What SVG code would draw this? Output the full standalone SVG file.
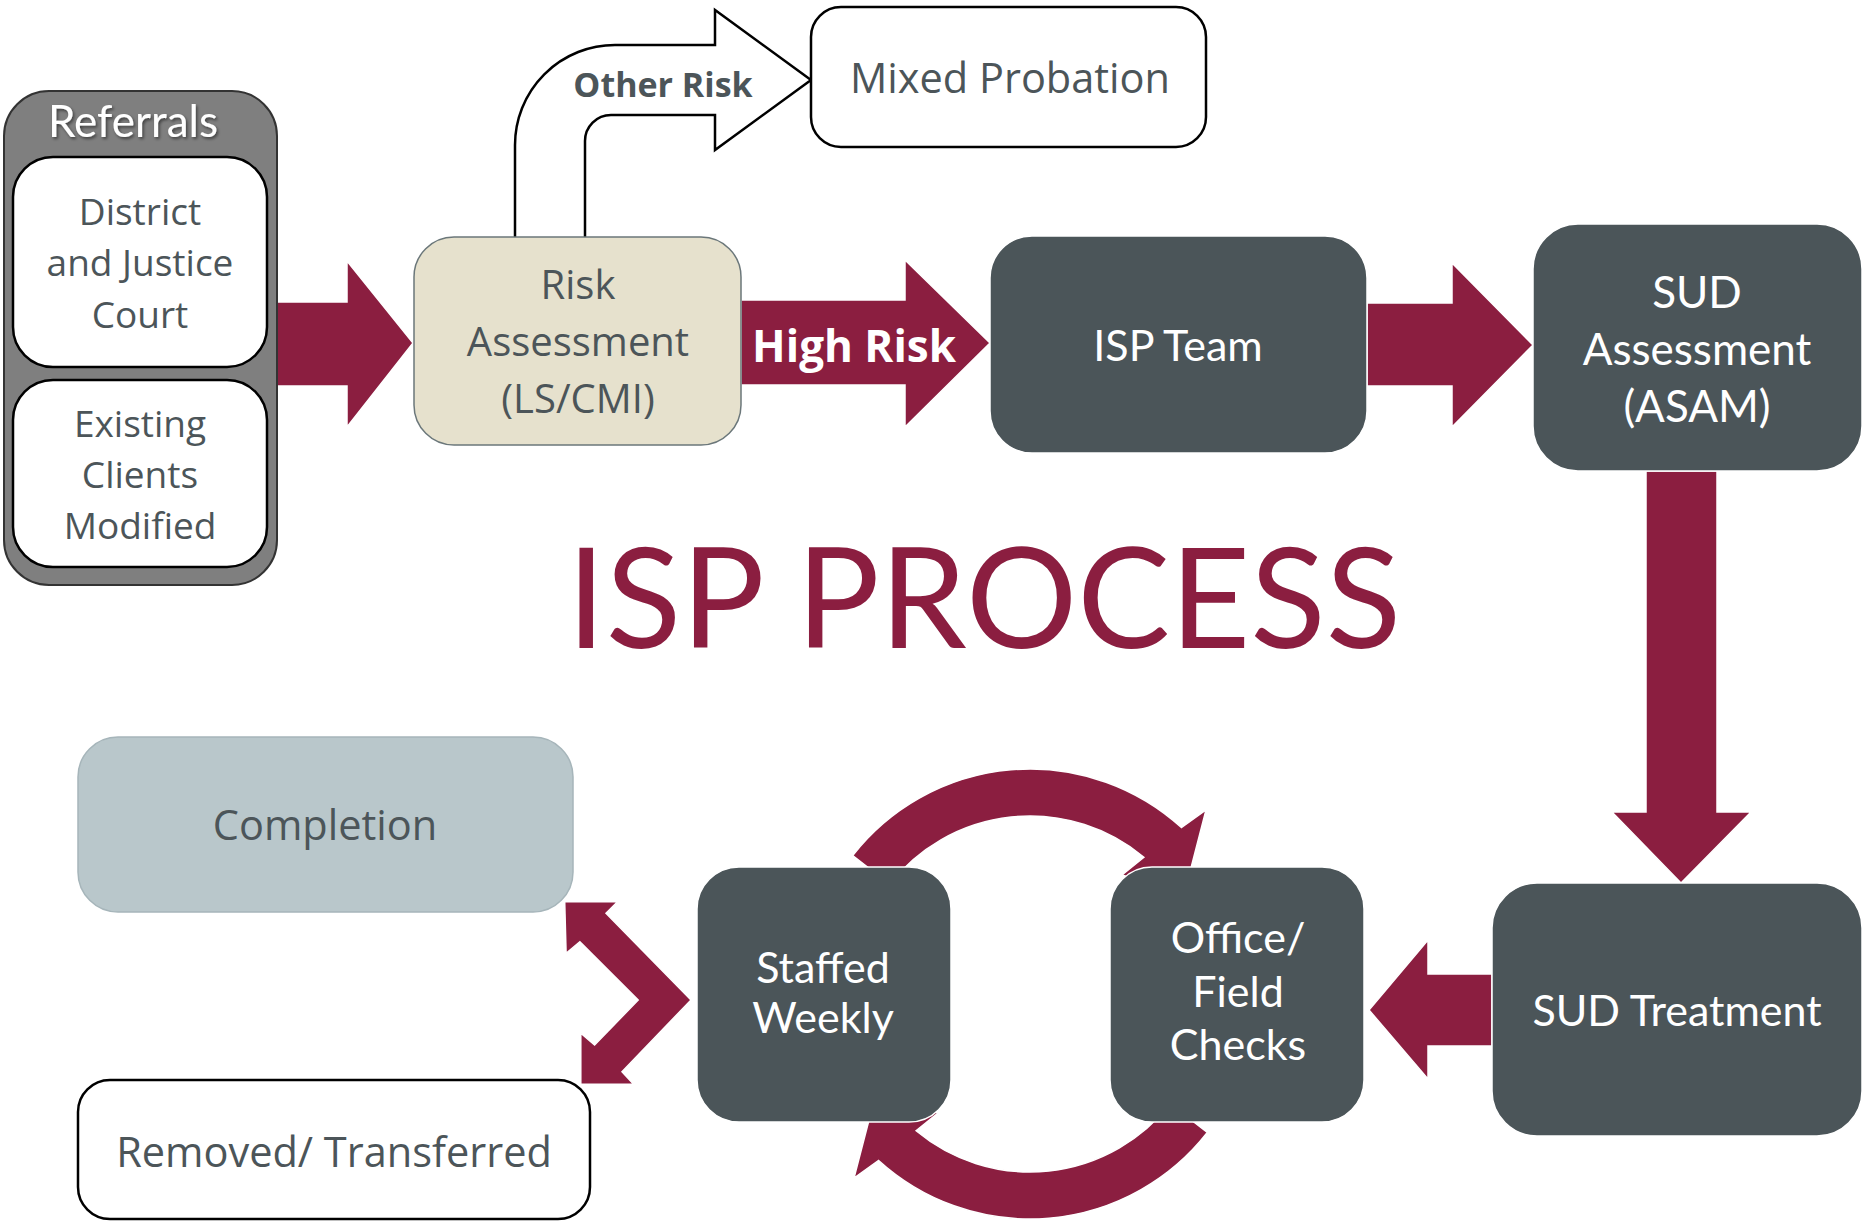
<svg xmlns="http://www.w3.org/2000/svg" width="1864" height="1221" viewBox="0 0 1864 1221">
  <defs>
    <style>
      .arrow { fill: #8b1e40; stroke: #ffffff; stroke-width: 1.5; }
      .dark { fill: #4b5559; stroke: #ffffff; stroke-width: 1.5; }
      .white-box { fill: #ffffff; stroke: #000000; stroke-width: 2.5; }
      .t-dark { font-family: "Open Sans", "Liberation Sans", sans-serif; fill: #4c5559; text-anchor: middle; }
      .t-light { font-family: Lato, "Open Sans", sans-serif; fill: #ffffff; text-anchor: middle; }
    </style>
    <filter id="shadow" x="-10%" y="-20%" width="130%" height="150%">
      <feDropShadow dx="1.5" dy="2" stdDeviation="1.5" flood-color="#000000" flood-opacity="0.5"/>
    </filter>
  </defs>
  <rect x="0" y="0" width="1864" height="1221" fill="#ffffff"/>

  <g id="node-completion">
    <rect x="78" y="737" width="495" height="175" rx="40" fill="#b9c7cb" stroke="#a6b5ba" stroke-width="1.5"/>
    <text class="t-dark" x="325" y="840" font-size="41.5">Completion</text>
  </g>
  <g id="node-removed">
    <rect x="78" y="1080" width="512" height="139" rx="32" class="white-box"/>
    <text class="t-dark" x="334" y="1167" font-size="41.5">Removed/ Transferred</text>
  </g>

  <g id="connectors">
    <path id="arrow-referrals-risk" class="arrow" d="M 277 302 L 347 302 L 347 261 L 413 343 L 347 427 L 347 386 L 277 386 Z"/>
    <path id="arrow-other-risk" d="M 515 240 L 515 145 A 100 100 0 0 1 615 45 L 715 45 L 715 10 L 811 80 L 715 150 L 715 115 L 611 115 A 26 26 0 0 0 585 141 L 585 240 Z" fill="#ffffff" stroke="#000000" stroke-width="2.5"/>
    <text x="663" y="97" font-family="'Open Sans', 'Liberation Sans', sans-serif" font-weight="bold" font-size="34" fill="#4c5559" text-anchor="middle">Other Risk</text>
    <path id="arrow-high-risk" class="arrow" d="M 741 300 L 905 300 L 905 260 L 990 343 L 905 427 L 905 385 L 741 385 Z"/>
    <text x="854" y="362" font-family="'Open Sans', 'Liberation Sans', sans-serif" font-weight="bold" font-size="44" fill="#ffffff" text-anchor="middle">High Risk</text>
    <path id="arrow-isp-sud" class="arrow" d="M 1367 303 L 1452 303 L 1452 263 L 1533 345 L 1452 427 L 1452 386 L 1367 386 Z"/>
    <path id="arrow-down" class="arrow" d="M 1646 471 L 1717 471 L 1717 812 L 1751 812 L 1681 883 L 1612 812 L 1646 812 Z"/>
    <path id="arrow-left" class="arrow" d="M 1492 974 L 1428 974 L 1428 940 L 1369 1010 L 1428 1079 L 1428 1046 L 1492 1046 Z"/>
    <path id="arrow-cycle-top" class="arrow" d="M 852.7 855.5 A 225 225 0 0 1 1181.4 827.5 L 1206 810 L 1184 895 L 1122 875 L 1143.9 857.3 A 178 178 0 0 0 889.7 884.4 Z"/>
    <path id="arrow-cycle-bottom" class="arrow" transform="rotate(180 1030 994)" d="M 852.7 855.5 A 225 225 0 0 1 1181.4 827.5 L 1206 810 L 1184 895 L 1122 875 L 1143.9 857.3 A 178 178 0 0 0 889.7 884.4 Z"/>
    <path id="arrow-exit" class="arrow" d="M 564.7 901.7 L 617.5 901.7 L 606 913.3 L 691 1000 L 622 1071.7 L 633.6 1084.3 L 580.8 1084.3 L 580.8 1033.3 L 594.6 1045 L 638.2 1000 L 579.9 941.7 L 566.1 953.3 Z"/>
  </g>

  <g id="node-referrals">
    <rect x="4" y="91" width="273" height="494" rx="45" fill="#7f7f7f" stroke="#333333" stroke-width="2"/>
    <text x="133" y="137" font-family="Lato, 'Open Sans', sans-serif" font-size="44" fill="#ffffff" text-anchor="middle" filter="url(#shadow)">Referrals</text>
  </g>
  <g id="node-district">
    <rect x="13" y="157" width="254" height="210" rx="40" class="white-box" stroke-width="3"/>
    <text class="t-dark" x="140" y="225" font-size="37">District</text>
    <text class="t-dark" x="140" y="276" font-size="37">and Justice</text>
    <text class="t-dark" x="140" y="328" font-size="37">Court</text>
  </g>
  <g id="node-existing">
    <rect x="13" y="380" width="254" height="187" rx="40" class="white-box" stroke-width="3"/>
    <text class="t-dark" x="140" y="437" font-size="37">Existing</text>
    <text class="t-dark" x="140" y="488" font-size="37">Clients</text>
    <text class="t-dark" x="140" y="539" font-size="37">Modified</text>
  </g>
  <g id="node-risk">
    <rect x="414" y="237" width="327" height="208" rx="40" fill="#e6e1cd" stroke="#6b777a" stroke-width="1.5"/>
    <text class="t-dark" x="578" y="299" font-size="40">Risk</text>
    <text class="t-dark" x="578" y="356" font-size="40">Assessment</text>
    <text class="t-dark" x="578" y="413" font-size="40">(LS/CMI)</text>
  </g>
  <g id="node-mixed">
    <rect x="811" y="7" width="395" height="140" rx="30" class="white-box"/>
    <text class="t-dark" x="1010" y="93" font-size="41.5">Mixed Probation</text>
  </g>
  <g id="node-isp-team">
    <rect x="990" y="236" width="377" height="217" rx="42" class="dark"/>
    <text class="t-light" x="1178" y="361" font-size="43">ISP Team</text>
  </g>
  <g id="node-sud-assessment">
    <rect x="1533" y="224" width="329" height="247" rx="45" class="dark"/>
    <text class="t-light" x="1697" y="308" font-size="44">SUD</text>
    <text class="t-light" x="1697" y="365" font-size="44">Assessment</text>
    <text class="t-light" x="1697" y="422" font-size="44">(ASAM)</text>
  </g>
  <g id="node-sud-treatment">
    <rect x="1492" y="883" width="370" height="253" rx="45" class="dark"/>
    <text class="t-light" x="1677" y="1026" font-size="43">SUD Treatment</text>
  </g>
  <g id="node-office">
    <rect x="1110" y="867" width="254" height="255" rx="42" class="dark"/>
    <text class="t-light" x="1238" y="953" font-size="43">Office/</text>
    <text class="t-light" x="1238" y="1007" font-size="43">Field</text>
    <text class="t-light" x="1238" y="1060" font-size="43">Checks</text>
  </g>
  <g id="node-staffed">
    <rect x="697" y="867" width="254" height="255" rx="42" class="dark"/>
    <text class="t-light" x="823" y="983" font-size="43">Staffed</text>
    <text class="t-light" x="823" y="1033" font-size="43">Weekly</text>
  </g>

  <text id="title" x="984" y="648" font-family="Lato, 'Open Sans', sans-serif" font-size="139" fill="#8b1e40" text-anchor="middle">ISP PROCESS</text>
</svg>
